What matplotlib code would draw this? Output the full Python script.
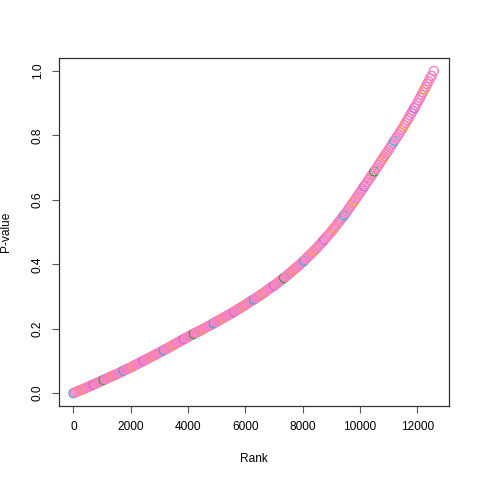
import numpy as np
import matplotlib
matplotlib.use("Agg")
import matplotlib.pyplot as plt

plt.rcParams['font.family'] = ['Liberation Sans', 'DejaVu Sans']

ranks = list(range(0, 12501, 50)) + [12580]
pvalues = [
    0.000,
    0.002, 0.004, 0.006, 0.008, 0.010, 0.011, 0.013, 0.015, 0.017, 0.019,
    0.021, 0.023, 0.025, 0.027, 0.029, 0.031, 0.033, 0.035, 0.037, 0.039,
    0.041, 0.043, 0.045, 0.047, 0.049, 0.051, 0.053, 0.055, 0.057, 0.059,
    0.061, 0.063, 0.065, 0.067, 0.070, 0.072, 0.074, 0.076, 0.078, 0.080,
    0.082, 0.085, 0.087, 0.089, 0.092, 0.094, 0.096, 0.098, 0.101, 0.103,
    0.105, 0.108, 0.110, 0.112, 0.115, 0.117, 0.119, 0.121, 0.124, 0.126,
    0.128, 0.131, 0.133, 0.136, 0.138, 0.140, 0.143, 0.145, 0.148, 0.150,
    0.153, 0.155, 0.158, 0.160, 0.163, 0.165, 0.168, 0.170, 0.173, 0.175,
    0.177, 0.180, 0.182, 0.184, 0.187, 0.189, 0.191, 0.193, 0.196, 0.198,
    0.200, 0.203, 0.205, 0.208, 0.210, 0.212, 0.215, 0.217, 0.220, 0.222,
    0.225, 0.227, 0.230, 0.232, 0.235, 0.237, 0.240, 0.242, 0.245, 0.247,
    0.250, 0.252, 0.255, 0.258, 0.261, 0.263, 0.266, 0.269, 0.271, 0.274,
    0.277, 0.280, 0.283, 0.286, 0.289, 0.291, 0.294, 0.297, 0.300, 0.303,
    0.306, 0.309, 0.312, 0.315, 0.319, 0.322, 0.325, 0.328, 0.331, 0.334,
    0.337, 0.341, 0.344, 0.348, 0.351, 0.354, 0.358, 0.361, 0.365, 0.368,
    0.372, 0.376, 0.380, 0.384, 0.388, 0.391, 0.395, 0.399, 0.403, 0.407,
    0.411, 0.416, 0.420, 0.425, 0.429, 0.433, 0.438, 0.442, 0.447, 0.451,
    0.456, 0.461, 0.466, 0.471, 0.476, 0.481, 0.486, 0.491, 0.496, 0.501,
    0.507, 0.512, 0.518, 0.524, 0.530, 0.535, 0.541, 0.547, 0.552, 0.558,
    0.564, 0.571, 0.577, 0.584, 0.590, 0.596, 0.603, 0.609, 0.616, 0.622,
    0.629, 0.635, 0.642, 0.648, 0.655, 0.662, 0.668, 0.675, 0.681, 0.688,
    0.695, 0.701, 0.708, 0.715, 0.722, 0.728, 0.735, 0.742, 0.748, 0.755,
    0.762, 0.769, 0.776, 0.783, 0.790, 0.796, 0.803, 0.810, 0.817, 0.824,
    0.832, 0.839, 0.847, 0.854, 0.862, 0.870, 0.877, 0.885, 0.892, 0.900,
    0.909, 0.917, 0.926, 0.934, 0.943, 0.951, 0.960, 0.968, 0.977, 0.985,
    1.000,
]
x_ticks = [0, 2000, 4000, 6000, 8000, 10000, 12000]
y_ticks = [0.0, 0.2, 0.4, 0.6, 0.8, 1.0]

pink = '#F781BF'
accents = ['#3AAEE0', '#FF9F30', '#C865E6', '#3A9E3A', '#F39A3C',
           '#3AAEE0', '#FF9F30', '#C865E6', '#F39A3C']
colors = []
for i in range(len(ranks)):
    if i == 0:
        colors.append(accents[0])
    elif i % 7 == 0:
        colors.append(accents[(i // 7) % len(accents)])
    else:
        colors.append(pink)

fig = plt.figure(figsize=(4.8, 4.8), dpi=100)
ax = fig.add_axes([0.123, 0.154, 0.812, 0.725])

ax.scatter(ranks, pvalues, s=42, facecolors='none', edgecolors=colors,
           linewidths=1.0)

ax.set_xlim(-503, 13103)
ax.set_ylim(-0.04, 1.04)
ax.set_xticks(x_ticks)
ax.set_xticklabels([str(t) for t in x_ticks])
ax.set_yticks(y_ticks)
ax.set_yticklabels([f"{t:.1f}" for t in y_ticks], rotation=90, va='center')
ax.tick_params(direction='out', length=5, width=0.8, labelsize=8.6, pad=6,
               color='#555555')
for s in ax.spines.values():
    s.set_linewidth(0.9)
    s.set_color('#333333')
ax.set_xlabel('Rank', fontsize=8.6, labelpad=14)
ax.set_ylabel('P-value', fontsize=8.6, labelpad=14)

fig.savefig('out.png', dpi=100)
